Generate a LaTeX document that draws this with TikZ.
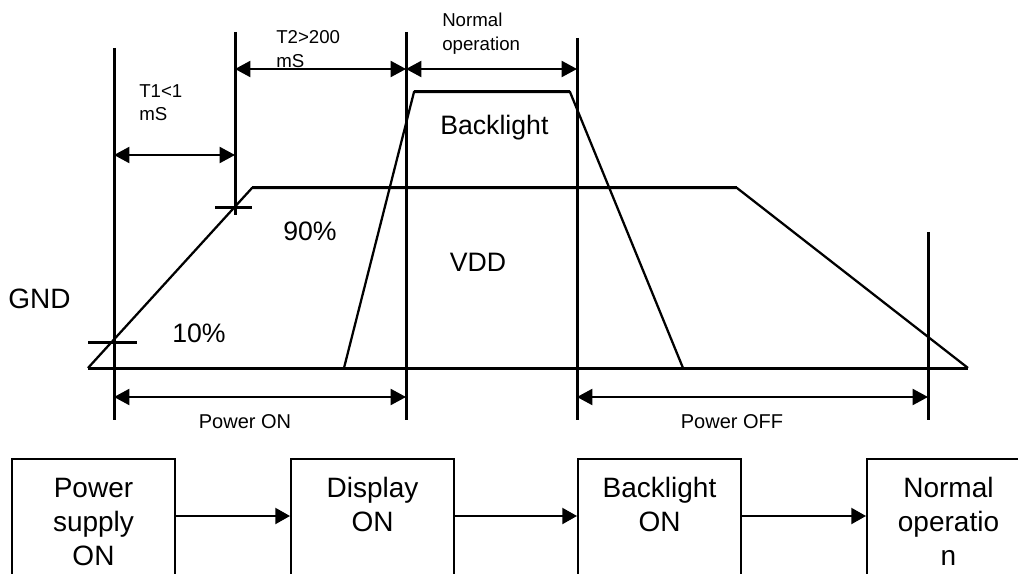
\documentclass[tikz,border=0pt]{standalone}
\usepackage{fontspec}
\setmainfont{Liberation Sans}
\usetikzlibrary{arrows.meta,calc}
\newcommand\fsm{\fontsize{14}{17}\selectfont}
\newcommand\fpw{\fontsize{15}{18}\selectfont}
\newcommand\fbg{\fontsize{20}{24}\selectfont}
\newcommand\fbk{\fontsize{21}{25.5}\selectfont}
\begin{document}
\begin{tikzpicture}[x=0.75pt,y=-0.75pt,
  vline/.style={line width=2.25pt},
  wave/.style={line width=1.7pt, line join=miter},
  dim/.style={line width=1.5pt,{Triangle[length=11.5pt,width=12pt]}-{Triangle[length=11.5pt,width=12pt]}},
  lbl/.style={inner sep=0pt, anchor=base west},
  clbl/.style={inner sep=0pt, anchor=base},
  blk/.style={draw, line width=1.5pt, minimum width=122.25pt, minimum height=93pt, inner sep=0pt},
  conn/.style={line width=1.5pt,-{Triangle[length=11pt,width=12pt]}}]
\useasboundingbox (0,0) rectangle (1018,574);
\clip (0,0) rectangle (1018,574);
% vertical marker lines
\coordinate (v1t) at (114,48);  \coordinate (v1b) at (114,420);
\coordinate (v2t) at (235,32);  \coordinate (v2b) at (235,215);
\coordinate (v3t) at (406,32);  \coordinate (v3b) at (406,420);
\coordinate (v4t) at (577,38);  \coordinate (v4b) at (577,420);
\coordinate (v5t) at (928,232); \coordinate (v5b) at (928,420);
\foreach \i in {1,...,5} {\draw[vline] (v\i t) -- (v\i b);}
% VDD waveform
\draw[wave] (88,368) -- (252,188) -- (737,188) -- (968,368);
\draw[vline] (252,188) -- (737,188);
\draw[vline] (88,368) -- (968,368);
% Backlight waveform
\draw[wave] (344,368) -- (414,92) -- (570,92) -- (683,368);
\draw[vline] (414,92) -- (570,92);
% 10% / 90% ticks
\draw[vline] (88,342) -- (137,342);
\draw[vline] (215,208) -- (252,208);
% dimension arrows
\draw[dim] (v1t |- 0,155) -- (v2t |- 0,155);
\draw[dim] (v2t |- 0,69) -- (v3t |- 0,69);
\draw[dim] (v3t |- 0,69) -- (v4t |- 0,69);
\draw[dim] (v1t |- 0,397) -- (v3t |- 0,397);
\draw[dim] (v4t |- 0,397) -- (v5t |- 0,397);
% labels
\node[lbl] (t1) at (139,97.7) {\fsm\begin{tabular}[t]{@{}l@{}}T1<1\\mS\end{tabular}};
\node[lbl] (t2) at (276,44) {\fontsize{14}{18}\selectfont\begin{tabular}[t]{@{}l@{}}T2>200\\mS\end{tabular}};
\node[lbl] (no) at (442,27) {\fontsize{14}{17.5}\selectfont\begin{tabular}[t]{@{}l@{}}Normal\\operation\end{tabular}};
\node[clbl] (pon) at (245,428) {\fpw Power ON};
\node[clbl] (poff) at (732,428) {\fpw Power OFF};
\node[lbl] (gnd) at (8,308) {\fontsize{21}{25}\selectfont GND};
\node[lbl] (p90) at (283,241) {\fbg 90\%};
\node[lbl] (p10) at (172,342) {\fbg 10\%};
\node[clbl] (vdd) at (478,272) {\fbg VDD};
\node[lbl] (bl) at (440,135) {\fbg Backlight};
% flow boxes
\node[blk] (b1) at (93.5,521) {};
\node[blk] (b2) at (372.5,521) {};
\node[blk] (b3) at (659.5,521) {};
\node[blk] (b4) at (948.5,521) {};
\node[clbl] (bt1) at (93.5,497) {\fbk\begin{tabular}[t]{@{}c@{}}Power\\supply\\ON\end{tabular}};
\node[clbl] (bt2) at (372.5,497) {\fbk\begin{tabular}[t]{@{}c@{}}Display\\ON\end{tabular}};
\node[clbl] (bt3) at (659.5,497) {\fbk\begin{tabular}[t]{@{}c@{}}Backlight\\ON\end{tabular}};
\node[clbl] (bt4) at (948.5,497) {\fbk\begin{tabular}[t]{@{}c@{}}Normal\\operatio\\n\end{tabular}};
\coordinate (row) at (0,516);
\draw[conn] (b1.east |- row) -- (b2.west |- row);
\draw[conn] (b2.east |- row) -- (b3.west |- row);
\draw[conn] (b3.east |- row) -- (b4.west |- row);
\end{tikzpicture}
\end{document}
